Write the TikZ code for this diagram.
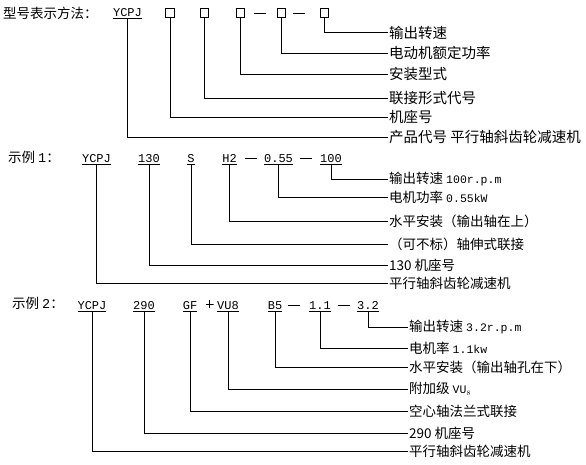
\documentclass[tikz,border=0pt]{standalone}
\usepackage{fontspec}
\setmainfont{Noto Sans CJK SC}
\newfontfamily\codefont{Liberation Mono}
\usetikzlibrary{positioning}

\tikzset{
  code/.style={font=\codefont\fontsize{12}{12}\selectfont, inner sep=0pt, anchor=south},
  slot/.style={draw, line width=0.8pt, minimum size=8.5pt, inner sep=0pt},
  dash sign/.style={fill=black, minimum width=12pt, minimum height=0.9pt, inner sep=0pt},
  plus sign/.style={minimum size=8pt, inner sep=0pt,
    path picture={\draw[line width=0.9pt]
      (path picture bounding box.north) -- (path picture bounding box.south)
      (path picture bounding box.west) -- (path picture bounding box.east);}},
  head/.style={font=\fontsize{13.5}{14}\selectfont, inner sep=0pt, anchor=west},
  note/.style={font=\fontsize{13.5}{14}\selectfont, inner sep=1pt, anchor=west},
  wide note/.style={note, font=\fontsize{14.5}{15}\selectfont},
  lead/.style={line width=0.8pt},
}
\newcommand{\cd}[1]{\underline{#1}}
\newcommand{\lat}[1]{{\codefont\fontsize{11.5}{12}\selectfont #1}}

\begin{document}
\begin{tikzpicture}[x=1pt,y=-1pt]
    \useasboundingbox (0,0) rectangle (586,464);

    % model code scheme
    \node[head] (t1) at (3,13) {型号表示方法：};
    \node[code] (a0) at (127.5,18.5) {\cd{YCPJ}};
    \node[slot] (a1) at (170,13) {};
    \node[slot] (a2) at (204.5,13) {};
    \node[slot] (a3) at (240.5,13) {};
    \node[dash sign] (d1) at (260,13.3) {};
    \node[slot] (a4) at (281.5,13) {};
    \node[dash sign] (d2) at (299,13.3) {};
    \node[slot] (a5) at (324.5,13) {};

    \node[wide note] (n5) at (388,32.5) {输出转速};
    \node[wide note] (n4) at (388,53.3) {电动机额定功率};
    \node[wide note] (n3) at (388,74) {安装型式};
    \node[wide note] (n2) at (388,98.3) {联接形式代号};
    \node[wide note] (n1) at (388,117.3) {机座号};
    \node[wide note] (n0) at (388,137.3) {产品代号\ 平行轴斜齿轮减速机};

    \draw[lead] (a5.south) |- (n5.west);
    \draw[lead] (a4.south) |- (n4.west);
    \draw[lead] (a3.south) |- (n3.west);
    \draw[lead] (a2.south) |- (n2.west);
    \draw[lead] (a1.south) |- (n1.west);
    \draw[lead] (a0.south) |- (n0.west);

    % example 1
    \node[head] (t2) at (8,157) {示例 {\codefont 1}：};
    \node[code] (b0) at (96.5,164.5) {\cd{YCPJ}};
    \node[code] (b1) at (149,164.5) {\cd{130}};
    \node[code] (b2) at (191,164.5) {\cd{S}};
    \node[code] (b3) at (229.5,164.5) {\cd{H2}};
    \node[dash sign] (d3) at (251,158) {};
    \node[code] (b4) at (278.5,164.5) {\cd{0.55}};
    \node[dash sign] (d4) at (306,158) {};
    \node[code] (b5) at (331,164.5) {\cd{100}};

    \node[note] (m5) at (388,179.3) {输出转速 \lat{100r.p.m}};
    \node[note] (m4) at (388,197.3) {电机功率 \lat{0.55kW}};
    \node[note] (m3) at (388,221.7) {水平安装（输出轴在上）};
    \node[note] (m2) at (388,244) {（可不标）轴伸式联接};
    \node[note] (m1) at (388,265) {130 机座号};
    \node[note] (m0) at (388,283.3) {平行轴斜齿轮减速机};

    \draw[lead] (b5.south) |- (m5.west);
    \draw[lead] (b4.south) |- (m4.west);
    \draw[lead] (b3.south) |- (m3.west);
    \draw[lead] (b2.south) |- (m2.west);
    \draw[lead] (b1.south) |- (m1.west);
    \draw[lead] (b0.south) |- (m0.west);

    % example 2
    \node[head] (t3) at (12,303) {示例 {\codefont 2}：};
    \node[code] (c0) at (92,311.5) {\cd{YCPJ}};
    \node[code] (c1) at (144,311.5) {\cd{290}};
    \node[code] (c2) at (190,311.5) {\cd{GF}};
    \node[plus sign] (pl) at (209.5,304) {};
    \node[code] (c3) at (228,311.5) {\cd{VU8}};
    \node[code] (c4) at (275,311.5) {\cd{B5}};
    \node[dash sign] (d5) at (294,305) {};
    \node[code] (c5) at (320,311.5) {\cd{1.1}};
    \node[dash sign] (d6) at (344,305) {};
    \node[code] (c6) at (368,311.5) {\cd{3.2}};

    \node[note] (p6) at (408,327) {输出转速 \lat{3.2r.p.m}};
    \node[note] (p5) at (408,348) {电机率 \lat{1.1kw}};
    \node[note] (p4) at (408,367) {水平安装（输出轴孔在下）};
    \node[note] (p3) at (408,389) {附加级 \lat{VU}$_{\scriptscriptstyle 8}$};
    \node[note] (p2) at (408,411) {空心轴法兰式联接};
    \node[note] (p1) at (408,433) {290 机座号};
    \node[note] (p0) at (408,451) {平行轴斜齿轮减速机};

    \draw[lead] (c6.south) |- (p6.west);
    \draw[lead] (c5.south) |- (p5.west);
    \draw[lead] (c4.south) |- (p4.west);
    \draw[lead] (c3.south) |- (p3.west);
    \draw[lead] (c2.south) |- (p2.west);
    \draw[lead] (c1.south) |- (p1.west);
    \draw[lead] (c0.south) |- (p0.west);
\end{tikzpicture}
\end{document}
